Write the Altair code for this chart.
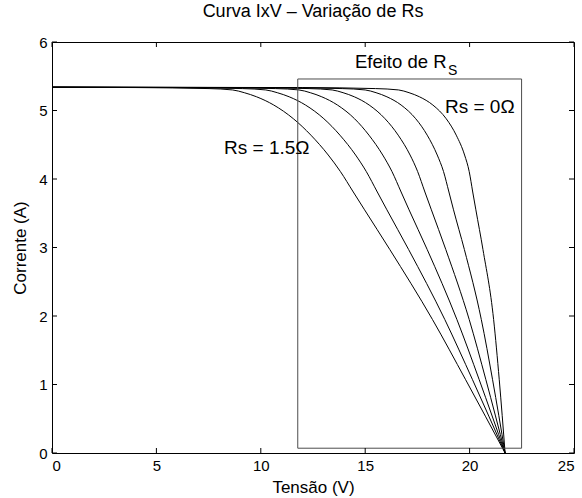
import altair as alt
import pandas as pd

# Current levels (A) shared by all the I-V curves
corrente = [5.34, 5.335, 5.32, 5.30, 5.26, 5.20, 5.08, 4.88, 4.64, 4.35,
            4.11, 3.81, 3.55, 2.97, 1.95, 1.07, 0.0]

# Voltage (V) of each curve at the current levels above, one list per Rs
tensao_rs_00 = [0.0, 12.0, 15.5, 16.6, 17.1, 17.6, 18.24, 18.88, 19.36, 19.76,
                19.98, 20.15, 20.30, 20.64, 21.15, 21.42, 21.70]
tensao_rs_03 = [0.0, 10.4, 13.9, 15.0, 15.52, 16.04, 16.72, 17.42, 17.97, 18.45,
                18.75, 19.01, 19.23, 19.75, 20.56, 21.10, 21.70]
tensao_rs_06 = [0.0, 8.8, 12.31, 13.42, 13.94, 14.48, 15.19, 15.95, 16.58, 17.15,
                17.51, 17.86, 18.17, 18.86, 19.98, 20.78, 21.70]
tensao_rs_09 = [0.0, 7.2, 10.71, 11.83, 12.37, 12.92, 13.67, 14.49, 15.18, 15.84,
                16.28, 16.72, 17.10, 17.97, 19.39, 20.46, 21.70]
tensao_rs_12 = [0.0, 5.6, 9.12, 10.24, 10.79, 11.36, 12.14, 13.02, 13.79, 14.54,
                15.05, 15.58, 16.04, 17.08, 18.81, 20.14, 21.70]
tensao_rs_15 = [0.0, 4.0, 7.52, 8.65, 9.21, 9.80, 10.62, 11.56, 12.40, 13.23,
                13.81, 14.43, 14.97, 16.18, 18.22, 19.81, 21.70]

rs_valores = ["0", "0.3", "0.6", "0.9", "1.2", "1.5"]
tensoes = [tensao_rs_00, tensao_rs_03, tensao_rs_06,
           tensao_rs_09, tensao_rs_12, tensao_rs_15]

# "Efeito de Rs" box limits
caixa_tensao = [11.77, 22.49]
caixa_corrente = [0.07, 5.46]

# Axis ticks
ticks_x = [0, 5, 10, 15, 20, 25]
ticks_y = [0, 1, 2, 3, 4, 5, 6]

# Annotations
rotulos_texto = ["Rs = 1.5\u03a9", "Rs = 0\u03a9"]
rotulos_tensao = [8.24, 18.82]
rotulos_corrente = [4.37, 4.97]
efeito_texto = ["Efeito de R"]
efeito_tensao = [14.51]
efeito_corrente = [5.625]
subscrito_texto = ["S"]
subscrito_tensao = [18.97]
subscrito_corrente = [5.52]

FONT = "Liberation Sans"
W, H = 522, 411

linhas = []
for rs, tens in zip(rs_valores, tensoes):
    for v, i in zip(tens, corrente):
        linhas.append({"Rs": rs, "V": v, "I": i})
curvas_df = pd.DataFrame(linhas)

x_scale = alt.Scale(domain=[0, 25], nice=False, zero=False)
y_scale = alt.Scale(domain=[0, 6], nice=False, zero=False)

eixo_x = alt.Axis(values=ticks_x, labelPadding=5, titleY=39, titleBaseline="alphabetic")
eixo_y = alt.Axis(values=ticks_y, labelPadding=5, titleX=-27, titleY=H / 2,
                  titleBaseline="alphabetic")


def enc_x(campo):
    return alt.X(campo, type="quantitative", scale=x_scale, axis=eixo_x, title="Tensão (V)")


def enc_y(campo):
    return alt.Y(campo, type="quantitative", scale=y_scale, axis=eixo_y, title="Corrente (A)")


curvas = alt.Chart(curvas_df).mark_line(
    color="black", strokeWidth=1, interpolate="monotone"
).encode(x=enc_x("V"), y=enc_y("I"), detail="Rs:N")

caixa_df = pd.DataFrame({
    "V": [caixa_tensao[0]], "V2": [caixa_tensao[1]],
    "I": [caixa_corrente[0]], "I2": [caixa_corrente[1]],
})
caixa = alt.Chart(caixa_df).mark_rect(
    fill="white", fillOpacity=0, stroke="#4d4d4d", strokeWidth=1
).encode(x=enc_x("V"), x2="V2", y=enc_y("I"), y2="I2")

# Inward tick marks on all four sides of the frame
tx_df = pd.DataFrame({"V": ticks_x})
ty_df = pd.DataFrame({"I": ticks_y})
tk_bottom = alt.Chart(tx_df).mark_rule(color="black").encode(
    x=enc_x("V"), y=alt.value(H), y2=alt.value(H - 5))
tk_top = alt.Chart(tx_df).mark_rule(color="black").encode(
    x=enc_x("V"), y=alt.value(0), y2=alt.value(5))
tk_left = alt.Chart(ty_df).mark_rule(color="black").encode(
    y=enc_y("I"), x=alt.value(0), x2=alt.value(5))
tk_right = alt.Chart(ty_df).mark_rule(color="black").encode(
    y=enc_y("I"), x=alt.value(W), x2=alt.value(W - 5))

rot_df = pd.DataFrame({"V": rotulos_tensao, "I": rotulos_corrente, "t": rotulos_texto})
rotulos = alt.Chart(rot_df).mark_text(
    font=FONT, fontSize=19, align="left", baseline="alphabetic", color="black"
).encode(x=enc_x("V"), y=enc_y("I"), text="t:N")

ef_df = pd.DataFrame({"V": efeito_tensao, "I": efeito_corrente, "t": efeito_texto})
efeito = alt.Chart(ef_df).mark_text(
    font=FONT, fontSize=18.5, align="left", baseline="alphabetic", color="black"
).encode(x=enc_x("V"), y=enc_y("I"), text="t:N")

sub_df = pd.DataFrame({"V": subscrito_tensao, "I": subscrito_corrente, "t": subscrito_texto})
subscrito = alt.Chart(sub_df).mark_text(
    font=FONT, fontSize=14, align="left", baseline="alphabetic", color="black"
).encode(x=enc_x("V"), y=enc_y("I"), text="t:N")

chart = alt.layer(
    curvas, caixa, tk_bottom, tk_top, tk_left, tk_right, rotulos, efeito, subscrito
).properties(
    width=W, height=H,
    background="white",
    title=alt.TitleParams("Curva IxV – Variação de Rs", font=FONT, fontSize=18,
                          fontWeight="normal", anchor="middle", offset=14,
                          color="black"),
    autosize=alt.AutoSizeParams(type="none"),
    padding={"left": 52, "top": 42, "right": 8, "bottom": 45},
).configure_view(
    stroke="black", strokeWidth=1
).configure_axis(
    labelFont=FONT, labelFontSize=15, labelColor="black",
    titleFont=FONT, titleFontSize=17, titleFontWeight="normal", titleColor="black",
    ticks=False, domain=False, grid=False,
)

chart.save("out.html", embed_options={"renderer": "svg", "actions": False})
